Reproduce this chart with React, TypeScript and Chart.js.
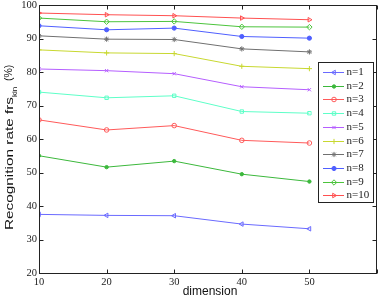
import React, { useEffect, useRef } from "react";
import { Chart, registerables } from "chart.js";
import { drawPoint } from "chart.js/helpers";
Chart.register(...registerables);

const dimensions = [10, 20, 30, 40, 50];
const seriesLabels = ["n=1", "n=2", "n=3", "n=4", "n=5", "n=6", "n=7", "n=8", "n=9", "n=10"];
const n1 = [37.5, 37.2, 37.1, 34.6, 33.2];
const n2 = [55.0, 51.6, 53.4, 49.5, 47.3];
const n3 = [65.7, 62.7, 64.0, 59.6, 58.8];
const n4 = [74.0, 72.3, 72.9, 68.2, 67.7];
const n5 = [80.9, 80.4, 79.5, 75.6, 74.7];
const n6 = [86.6, 85.7, 85.5, 81.7, 81.0];
const n7 = [90.8, 89.8, 89.7, 86.9, 86.0];
const n8 = [93.8, 92.6, 93.1, 90.6, 90.1];
const n9 = [96.1, 95.0, 95.1, 93.5, 93.4];
const n10 = [97.6, 97.1, 96.8, 96.1, 95.6];
const seriesValues = [n1, n2, n3, n4, n5, n6, n7, n8, n9, n10];
const xTicks = [10, 20, 30, 40, 50, 60];
const yTicks = [20, 30, 40, 50, 60, 70, 80, 90, 100];
const xTitle = "dimension";
const yTitleMain = "Recognition rate frs";
const yTitleSub = "kin";
const yTitleEnd = "(%)";

const colors = ["#6a6aff", "#3cb83c", "#ff5a5a", "#5effc8", "#b55eff", "#c8d830", "#707070", "#4f5fff", "#4cc43c", "#ff5050"];
const styles: any[] = [
  { s: "triangle", r: -90, rad: 2.6, fill: false },
  { s: "circle", r: 0, rad: 1.7, fill: true },
  { s: "circle", r: 0, rad: 2.3, fill: false },
  { s: "rect", r: 0, rad: 2.4, fill: false },
  { s: "crossRot", r: 0, rad: 2.3, fill: false },
  { s: "cross", r: 0, rad: 2.6, fill: false },
  { s: "star", r: 0, rad: 2.6, fill: false },
  { s: "circle", r: 0, rad: 2.1, fill: true },
  { s: "rectRot", r: 0, rad: 2.7, fill: false },
  { s: "triangle", r: 90, rad: 2.6, fill: false },
];

const SERIF = "'Liberation Serif', 'DejaVu Serif', serif";
const SANS = "'Liberation Sans', Arial, sans-serif";

const framePlugin = {
  id: "frame",
  afterDraw(chart: any) {
    const { ctx, chartArea: a, scales } = chart;
    const xs = scales.x, ys = scales.y;
    ctx.save();
    ctx.strokeStyle = "#222";
    ctx.lineWidth = 1;
    const L = Math.round(a.left) + 0.5, T = Math.round(a.top) + 0.5;
    const R = Math.round(a.right) - 0.5, B = Math.round(a.bottom) + 0.5;
    ctx.strokeRect(L, T, R - L, B - T);
    const tl = 4;
    ctx.beginPath();
    for (const v of xTicks) {
      const px = Math.round(xs.getPixelForValue(v)) + 0.5;
      ctx.moveTo(px, B); ctx.lineTo(px, B - tl);
      ctx.moveTo(px, T); ctx.lineTo(px, T + tl);
    }
    for (const v of yTicks) {
      const py = Math.round(ys.getPixelForValue(v)) + 0.5;
      ctx.moveTo(L, py); ctx.lineTo(L + tl, py);
      ctx.moveTo(R, py); ctx.lineTo(R - tl, py);
    }
    ctx.stroke();

    // x title
    ctx.fillStyle = "#111";
    ctx.font = `12px ${SANS}`;
    ctx.textAlign = "center";
    ctx.textBaseline = "middle";
    ctx.fillText(xTitle, 210, 292);

    // y title with subscript (rotated)
    ctx.textAlign = "left";
    ctx.textBaseline = "alphabetic";
    ctx.font = `10.5px ${SANS}`;
    const w1 = ctx.measureText(yTitleMain).width;
    const sx = 133 / w1;
    ctx.save();
    ctx.translate(13, 230);
    ctx.rotate(-Math.PI / 2);
    ctx.scale(sx, 1);
    ctx.fillText(yTitleMain, 0, 0);
    ctx.restore();
    ctx.save();
    ctx.font = `8px ${SANS}`;
    ctx.translate(17, 97);
    ctx.rotate(-Math.PI / 2);
    ctx.fillText(yTitleSub, 0, 0);
    ctx.restore();
    ctx.save();
    ctx.font = `10.5px ${SANS}`;
    ctx.translate(11.5, 81);
    ctx.rotate(-Math.PI / 2);
    ctx.fillText(yTitleEnd, 0, 0);
    ctx.restore();
    ctx.restore();

    // legend
    ctx.save();
    const bx = 318.5, by = 62.5, bw = 55, bh = 140;
    ctx.fillStyle = "#fff";
    ctx.fillRect(bx, by, bw, bh);
    ctx.strokeStyle = "#222";
    ctx.lineWidth = 1;
    ctx.strokeRect(bx, by, bw, bh);
    ctx.font = `11px ${SERIF}`;
    ctx.textAlign = "left";
    ctx.textBaseline = "middle";
    seriesLabels.forEach((lab, i) => {
      const y = Math.round(72 + i * 13.7) + 0.5;
      ctx.strokeStyle = colors[i];
      ctx.lineWidth = 1;
      ctx.beginPath();
      ctx.moveTo(323, y); ctx.lineTo(344, y);
      ctx.stroke();
      const st = styles[i];
      ctx.fillStyle = st.fill ? colors[i] : "rgba(0,0,0,0)";
      drawPoint(ctx, { pointStyle: st.s, rotation: st.r, radius: st.rad, borderWidth: 1 } as any, 334, y);
      ctx.fillStyle = "#222";
      ctx.fillText(lab, 346.5, y);
    });
    ctx.restore();
  },
};

export default function App() {
  const ref = useRef<HTMLCanvasElement>(null);
  useEffect(() => {
    document.body.style.margin = "0";
    const datasets = seriesValues.map((vals, i) => ({
      label: seriesLabels[i],
      data: vals.map((v, j) => ({ x: dimensions[j], y: v })),
      borderColor: colors[i],
      backgroundColor: styles[i].fill ? colors[i] : "rgba(0,0,0,0)",
      pointBorderColor: colors[i],
      pointBackgroundColor: styles[i].fill ? colors[i] : "rgba(0,0,0,0)",
      pointStyle: styles[i].s,
      pointRotation: styles[i].r,
      pointRadius: styles[i].rad,
      pointBorderWidth: 1,
      borderWidth: 1,
      tension: 0,
      fill: false,
    }));
    const chart = new Chart(ref.current!, {
      type: "line",
      data: { datasets },
      plugins: [framePlugin],
      options: {
        animation: false,
        responsive: false,
        layout: { padding: { top: 4, right: 1, left: 0, bottom: 0 } },
        plugins: { legend: { display: false }, tooltip: { enabled: false } },
        scales: {
          x: {
            type: "linear",
            min: 10,
            max: 60,
            afterBuildTicks: (s: any) => { s.ticks = xTicks.map((v) => ({ value: v })); },
            afterFit: (s: any) => { s.height = 25; s.paddingLeft = 0; s.paddingRight = 0; },
            grid: { display: false, drawTicks: false },
            border: { display: false },
            ticks: {
              autoSkip: false,
              maxRotation: 0,
              padding: 3,
              color: "#222",
              font: { family: SERIF, size: 10.5 },
              callback: (v: any) => (v === 60 ? "" : String(v)),
            },
          },
          y: {
            type: "linear",
            min: 20,
            max: 100,
            afterBuildTicks: (s: any) => { s.ticks = yTicks.map((v) => ({ value: v })); },
            afterFit: (s: any) => { s.width = 39; s.paddingTop = 0; s.paddingBottom = 0; },
            grid: { display: false, drawTicks: false },
            border: { display: false },
            ticks: {
              padding: 2,
              color: "#222",
              font: { family: SERIF, size: 10.5 },
            },
          },
        },
      } as any,
    });
    return () => chart.destroy();
  }, []);
  return (
    <div style={{ position: "absolute", left: 0, top: 0, width: 382, height: 298 }}>
      <canvas ref={ref} width={382} height={298} style={{ width: 382, height: 298, display: "block" }} />
    </div>
  );
}
